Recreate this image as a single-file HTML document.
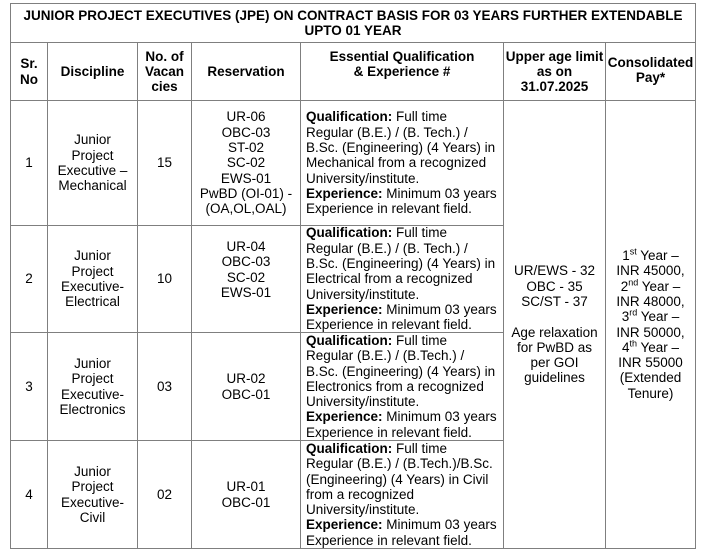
<!DOCTYPE html>
<html><head><meta charset="utf-8"><style>
body{margin:0;background:#fff;width:707px;height:558px;position:relative;overflow:hidden;font-family:"Liberation Sans",Arial,sans-serif;font-size:13.5px;color:#000;}
.c{position:absolute;box-sizing:border-box;border:1px solid #7f7f7f;display:flex;align-items:center;justify-content:center;text-align:center;line-height:15.3px;margin:-1px 0 0 -1px;white-space:nowrap}
.b{font-weight:bold}
.l{justify-content:flex-start;text-align:left;padding-left:5px}
sup{font-size:9px;line-height:0}
</style></head><body>
<div class="c b" style="left:11px;top:4px;width:686px;height:40px"><div>JUNIOR PROJECT EXECUTIVES (JPE) ON CONTRACT BASIS FOR 03 YEARS FURTHER EXTENDABLE<br>UPTO 01 YEAR</div></div>
<div class="c b" style="left:11px;top:43px;width:38px;height:59px"><div>Sr.<br>No</div></div>
<div class="c b" style="left:48px;top:43px;width:91px;height:59px"><div>Discipline</div></div>
<div class="c b" style="left:138px;top:43px;width:55px;height:59px"><div>No. of<br>Vacan<br>cies</div></div>
<div class="c b" style="left:192px;top:43px;width:110px;height:59px"><div>Reservation</div></div>
<div class="c b" style="left:301px;top:43px;width:204px;height:59px;align-items:flex-start;padding-top:6px"><div>Essential Qualification<br>&amp; Experience #</div></div>
<div class="c b" style="left:504px;top:43px;width:103px;height:59px"><div>Upper age limit<br>as on<br>31.07.2025</div></div>
<div class="c b" style="left:606px;top:43px;width:91px;height:59px;align-items:flex-start;padding-top:12px"><div>Consolidated<br>Pay*</div></div>

<div class="c" style="left:11px;top:101px;width:38px;height:126px"><div>1</div></div>
<div class="c" style="left:48px;top:101px;width:91px;height:126px"><div>Junior<br>Project<br>Executive –<br>Mechanical</div></div>
<div class="c" style="left:138px;top:101px;width:55px;height:126px"><div>15</div></div>
<div class="c" style="left:192px;top:101px;width:110px;height:126px"><div>UR-06<br>OBC-03<br>ST-02<br>SC-02<br>EWS-01<br>PwBD (OI-01) -<br>(OA,OL,OAL)</div></div>
<div class="c l" style="left:301px;top:101px;width:204px;height:126px"><div><b>Qualification:</b> Full time<br>Regular (B.E.) / (B. Tech.) /<br>B.Sc. (Engineering) (4 Years) in<br>Mechanical from a recognized<br>University/institute.<br><b>Experience:</b> Minimum 03 years<br>Experience in relevant field.</div></div>

<div class="c" style="left:11px;top:226px;width:38px;height:108px"><div>2</div></div>
<div class="c" style="left:48px;top:226px;width:91px;height:108px"><div>Junior<br>Project<br>Executive-<br>Electrical</div></div>
<div class="c" style="left:138px;top:226px;width:55px;height:108px"><div>10</div></div>
<div class="c" style="left:192px;top:226px;width:110px;height:108px;align-items:flex-start;padding-top:13px"><div>UR-04<br>OBC-03<br>SC-02<br>EWS-01</div></div>
<div class="c l" style="left:301px;top:226px;width:204px;height:108px"><div><b>Qualification:</b> Full time<br>Regular (B.E.) / (B. Tech.) /<br>B.Sc. (Engineering) (4 Years) in<br>Electrical from a recognized<br>University/institute.<br><b>Experience:</b> Minimum 03 years<br>Experience in relevant field.</div></div>

<div class="c" style="left:11px;top:333px;width:38px;height:109px"><div>3</div></div>
<div class="c" style="left:48px;top:333px;width:91px;height:109px"><div>Junior<br>Project<br>Executive-<br>Electronics</div></div>
<div class="c" style="left:138px;top:333px;width:55px;height:109px"><div>03</div></div>
<div class="c" style="left:192px;top:333px;width:110px;height:109px"><div>UR-02<br>OBC-01</div></div>
<div class="c l" style="left:301px;top:333px;width:204px;height:109px"><div><b>Qualification:</b> Full time<br>Regular (B.E.) / (B.Tech.) /<br>B.Sc. (Engineering) (4 Years) in<br>Electronics from a recognized<br>University/institute.<br><b>Experience:</b> Minimum 03 years<br>Experience in relevant field.</div></div>

<div class="c" style="left:11px;top:441px;width:38px;height:109px"><div>4</div></div>
<div class="c" style="left:48px;top:441px;width:91px;height:109px"><div>Junior<br>Project<br>Executive-<br>Civil</div></div>
<div class="c" style="left:138px;top:441px;width:55px;height:109px"><div>02</div></div>
<div class="c" style="left:192px;top:441px;width:110px;height:109px"><div>UR-01<br>OBC-01</div></div>
<div class="c l" style="left:301px;top:441px;width:204px;height:109px"><div><b>Qualification:</b> Full time<br>Regular (B.E.) / (B.Tech.)/B.Sc.<br>(Engineering) (4 Years) in Civil<br>from a recognized<br>University/institute.<br><b>Experience:</b> Minimum 03 years<br>Experience in relevant field.</div></div>

<div class="c" style="left:504px;top:101px;width:103px;height:449px"><div>UR/EWS - 32<br>OBC - 35<br>SC/ST - 37<br><br>Age relaxation<br>for PwBD as<br>per GOI<br>guidelines</div></div>
<div class="c" style="left:606px;top:101px;width:91px;height:449px"><div>1<sup>st</sup> Year –<br>INR 45000,<br>2<sup>nd</sup> Year –<br>INR 48000,<br>3<sup>rd</sup> Year –<br>INR 50000,<br>4<sup>th</sup> Year –<br>INR 55000<br>(Extended<br>Tenure)</div></div>
</body></html>
